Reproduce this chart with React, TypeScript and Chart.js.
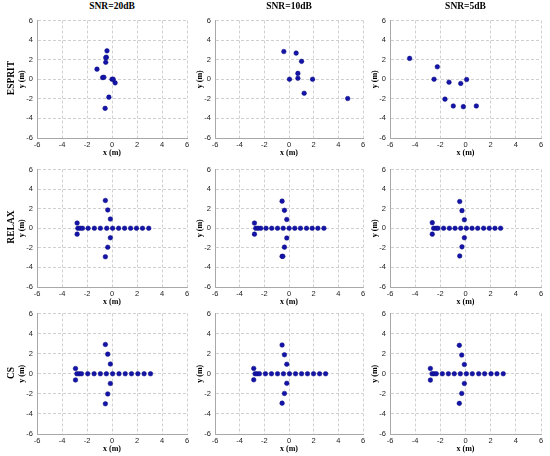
import { useEffect, useRef } from "react";
import { Chart, registerables } from "chart.js";

Chart.register(...registerables);

// column / row headings
const snrLabels = ["SNR=20dB", "SNR=10dB", "SNR=5dB"];
const methodLabels = ["ESPRIT", "RELAX", "CS"];
const tickValues = [-6, -4, -2, 0, 2, 4, 6];

// ESPRIT estimates
const espritX20 = [-0.4, -0.45, -0.5, -0.5, -1.2, -0.75, -0.65, 0.0, 0.1, 0.25, -0.25, -0.55];
const espritY20 = [2.9, 2.25, 2.2, 1.73, 1.03, 0.17, 0.2, 0.0, 0.0, -0.37, -1.83, -2.97];
const espritX10 = [-0.42, 0.58, 1.02, 0.72, 0.72, 0.04, 1.91, 1.23, 4.76];
const espritY10 = [2.83, 2.67, 1.83, 0.6, 0.1, 0.0, 0.0, -1.43, -1.97];
const espritX5 = [-4.44, -2.24, -2.5, -1.31, -0.38, 0.09, -1.63, -0.97, -0.17, 0.86];
const espritY5 = [2.13, 1.27, 0.0, -0.3, -0.43, -0.03, -2.03, -2.73, -2.8, -2.73];

// RELAX estimates
const relaxX20 = [-0.53, -0.34, -0.13, -2.79, -2.79, -0.13, -0.34, -0.53,
  -2.73, -2.55, -2.36, -1.91, -1.41, -0.93, -0.42, 0.05, 0.53, 1.01, 1.49, 1.96, 2.44, 2.94];
const relaxY20 = [2.84, 1.87, 0.94, 0.53, -0.6, -0.97, -1.94, -2.91,
  0, 0, 0, 0, 0, 0, 0, 0, 0, 0, 0, 0, 0, 0];
const relaxX10 = [-0.56, -0.37, -0.18, -2.8, -2.8, -0.18, -0.37, -0.56, -0.5,
  -2.7, -2.51, -2.29, -1.86, -1.4, -0.93, -0.47, 0.01, 0.47, 0.93, 1.42, 1.88, 2.34, 2.83];
const relaxY10 = [2.77, 1.83, 0.9, 0.53, -0.6, -1.0, -1.93, -2.87, -2.87,
  0, 0, 0, 0, 0, 0, 0, 0, 0, 0, 0, 0, 0, 0];
const relaxX5 = [-0.46, -0.28, -0.09, -2.64, -2.64, -0.09, -0.28, -0.46,
  -2.53, -2.34, -2.19, -1.74, -1.28, -0.83, -0.38, 0.07, 0.52, 0.97, 1.44, 1.89, 2.34, 2.79];
const relaxY5 = [2.73, 1.8, 0.87, 0.57, -0.6, -0.97, -1.9, -2.83,
  0, 0, 0, 0, 0, 0, 0, 0, 0, 0, 0, 0, 0, 0];

// CS estimates
const csX20 = [-0.53, -0.34, -0.13, -2.92, -2.92, -0.13, -0.34, -0.53,
  -2.81, -2.63, -2.44, -1.94, -1.43, -0.93, -0.45, 0.05, 0.56, 1.06, 1.56, 2.07, 2.57, 3.08];
const csY20 = [2.92, 1.95, 0.97, 0.52, -0.62, -0.97, -2.01, -2.99,
  0, 0, 0, 0, 0, 0, 0, 0, 0, 0, 0, 0, 0, 0];
const csX10 = [-0.56, -0.37, -0.18, -2.86, -2.86, -0.18, -0.37, -0.56,
  -2.75, -2.59, -2.4, -1.91, -1.42, -0.93, -0.45, 0.04, 0.53, 1.02, 1.5, 1.99, 2.48, 2.97];
const csY10 = [2.86, 1.89, 0.95, 0.53, -0.6, -0.95, -1.96, -2.93,
  0, 0, 0, 0, 0, 0, 0, 0, 0, 0, 0, 0, 0, 0];
const csX5 = [-0.49, -0.3, -0.09, -2.79, -2.79, -0.09, -0.3, -0.49,
  -2.66, -2.5, -2.32, -1.84, -1.36, -0.89, -0.41, 0.07, 0.54, 1.05, 1.52, 2.03, 2.5, 3.0];
const csY5 = [2.83, 1.86, 0.92, 0.53, -0.63, -0.97, -1.96, -2.95,
  0, 0, 0, 0, 0, 0, 0, 0, 0, 0, 0, 0, 0, 0];

const panelXs = [
  [espritX20, espritX10, espritX5],
  [relaxX20, relaxX10, relaxX5],
  [csX20, csX10, csX5],
];
const panelYs = [
  [espritY20, espritY10, espritY5],
  [relaxY20, relaxY10, relaxY5],
  [csY20, csY10, csY5],
];

// plot-area geometry (px)
const colLeft = [37, 215, 390];
const colWidth = [150, 148, 151];
const rowTop = [18, 167, 311];
const rowHeight = [120, 120, 123];
const AXIS_W = 30;
const AXIS_H = 22;
const PAD_TOP = 6;
const PAD_RIGHT = 8;

const serif = "'Liberation Serif', 'DejaVu Serif', serif";
const sans = "'Liberation Sans', Arial, sans-serif";

function Panel({ xs, ys, left, top, w, h }: { xs: number[]; ys: number[]; left: number; top: number; w: number; h: number }) {
  const chartRef = useRef<HTMLCanvasElement | null>(null);

  useEffect(() => {
    if (!chartRef.current) return;
    const ctx = chartRef.current.getContext("2d");
    if (!ctx) return;

    const axisCommon = {
      type: "linear" as const,
      min: -6,
      max: 6,
      afterBuildTicks: (scale: any) => {
        scale.ticks = tickValues.map((v) => ({ value: v }));
      },
      grid: { color: "#c4c4c4", lineWidth: 0.8, drawTicks: false },
      border: { display: true, color: "#a8a8a8", width: 1, dash: [3, 2] },
    };

    const myChart = new Chart(ctx, {
      type: "scatter",
      data: {
        datasets: [
          {
            data: xs.map((x, i) => ({ x, y: ys[i] })),
            pointRadius: 2.3,
            pointHoverRadius: 2.3,
            backgroundColor: "#1414a8",
            borderColor: "#0a0a80",
            borderWidth: 0.5,
          },
        ],
      },
      options: {
        responsive: false,
        animation: false,
        events: [],
        layout: { padding: { top: PAD_TOP, right: PAD_RIGHT, left: 0, bottom: 0 } },
        plugins: { legend: { display: false }, tooltip: { enabled: false }, title: { display: false } },
        scales: {
          x: {
            ...axisCommon,
            position: "bottom",
            afterFit: (scale: any) => {
              scale.height = AXIS_H;
            },
            ticks: { color: "#222222", font: { family: sans, size: 7.5 }, padding: 2, maxRotation: 0 },
            title: {
              display: true,
              text: "x (m)",
              color: "#000000",
              font: { family: serif, size: 8, weight: "bold" },
              padding: { top: 0, bottom: 2 },
            },
          },
          y: {
            ...axisCommon,
            position: "left",
            afterFit: (scale: any) => {
              scale.width = AXIS_W;
            },
            ticks: { color: "#222222", font: { family: sans, size: 7.5 }, padding: 4 },
            title: {
              display: true,
              text: "y (m)",
              color: "#000000",
              font: { family: serif, size: 8, weight: "bold" },
              padding: { top: 10, bottom: 0 },
            },
          },
        },
      },
    });

    return () => {
      myChart.destroy();
    };
  }, [xs, ys]);

  return (
    <canvas
      ref={chartRef}
      width={w + AXIS_W + PAD_RIGHT}
      height={h + PAD_TOP + AXIS_H}
      style={{ position: "absolute", left: left - AXIS_W, top: top - PAD_TOP }}
    />
  );
}

export default function App() {
  return (
    <div style={{ position: "absolute", left: 0, top: 0, width: 550, height: 456, background: "#ffffff", overflow: "hidden" }}>
      {panelXs.map((row, r) =>
        row.map((xs, c) => (
          <Panel
            key={`${r}-${c}`}
            xs={xs}
            ys={panelYs[r][c]}
            left={colLeft[c]}
            top={rowTop[r]}
            w={colWidth[c]}
            h={rowHeight[r]}
          />
        ))
      )}
      {snrLabels.map((label, c) => (
        <div
          key={label}
          style={{
            position: "absolute",
            left: colLeft[c] + colWidth[c] / 2,
            top: 1,
            transform: "translateX(-50%)",
            font: `bold 9.5px ${serif}`,
            whiteSpace: "nowrap",
          }}
        >
          {label}
        </div>
      ))}
      {methodLabels.map((label, r) => (
        <div
          key={label}
          style={{
            position: "absolute",
            left: 11,
            top: rowTop[r] + rowHeight[r] / 2,
            transform: "translate(-50%, -50%) rotate(-90deg)",
            font: `bold 9.5px ${serif}`,
            whiteSpace: "nowrap",
          }}
        >
          {label}
        </div>
      ))}
    </div>
  );
}
